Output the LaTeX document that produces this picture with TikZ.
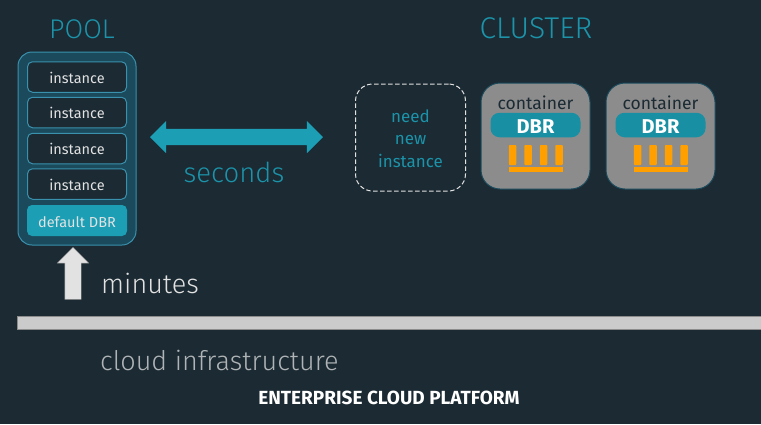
\documentclass[tikz,border=0pt]{standalone}
\usepackage{fontspec}
\setmainfont{Fira Sans}
\newfontfamily\lightfont{Fira Sans Light}
\usetikzlibrary{positioning,shapes.arrows}
\definecolor{bgdark}{HTML}{1B2A33}
\definecolor{pooldark}{HTML}{1A4A5C}
\definecolor{poolline}{HTML}{3A91AD}
\definecolor{tealfill}{HTML}{1C9FB5}
\definecolor{tealtext}{HTML}{1C93A9}
\definecolor{boxgray}{HTML}{8C8C8C}
\definecolor{barorange}{HTML}{FFA000}
\definecolor{softwhite}{HTML}{E2E2E2}
\newcommand{\lowered}[2]{\raisebox{-#1pt}[0pt][0pt]{#2}}
\tikzset{
  txt/.style = {font = \lightfont\fontsize{#1}{#1}\selectfont, inner sep = 0pt},
  smalltxt/.style = {font = \fontsize{#1}{#1}\selectfont, inner sep = 0pt},
  instancebox/.style = {draw = poolline, fill = bgdark, line width = 1pt, rounded corners = 5pt, minimum width = 99pt, minimum height = 30.5pt, inner sep = 0pt, text = softwhite, font = \fontsize{14.5}{14.5}\selectfont},
  containerbox/.style = {draw = pooldark, fill = boxgray, line width = 1pt, rounded corners = 19pt, minimum width = 109pt, minimum height = 106pt, inner sep = 0pt},
  dbrpill/.style = {fill = tealfill!90!black, rounded corners = 9pt, minimum width = 90pt, minimum height = 24.5pt, inner sep = 0pt, text = white, font = \bfseries\fontsize{20}{20}\selectfont},
  orangebar/.style = {fill = barorange, rounded corners = 0.8pt, minimum width = 7.5pt, minimum height = 20pt, inner sep = 0pt},
  orangebase/.style = {fill = barorange, minimum width = 54pt, minimum height = 4.5pt, inner sep = 0pt}
}
\begin{document}
\begin{tikzpicture}[x = 1pt, y = -1pt]
\useasboundingbox (0,0) rectangle (761,424);
\fill[bgdark] (0,0) rectangle (761,424);
% pool side
\node[txt = 27, text = tealtext] (pooltitle) at (82,29) {POOL};
\node[draw = poolline, fill = pooldark, line width = 1pt, rounded corners = 14pt, minimum width = 118pt, minimum height = 193pt, inner sep = 0pt] (pool) at (77,148.5) {};
\node[instancebox] (inst1) at (77,77) {\lowered{6}{instance}};
\node[instancebox] (inst2) at (77,112.5) {\lowered{6}{instance}};
\node[instancebox] (inst3) at (77,148.5) {\lowered{6}{instance}};
\node[instancebox] (inst4) at (77,184) {\lowered{6}{instance}};
\node[fill = tealfill, rounded corners = 5pt, minimum width = 100pt, minimum height = 31pt, inner sep = 0pt, text = softwhite, font = \fontsize{14.5}{14.5}\selectfont] (defdbr) at (77,220.5) {\lowered{6.5}{default DBR}};
% arrows
\node[double arrow, fill = tealfill, double arrow head extend = 8pt, minimum height = 173pt, inner sep = 8pt] (swap) at (236.5,137) {};
\node[txt = 27.5, text = tealtext] (seconds) at (234,172) {seconds};
\node[single arrow, shape border rotate = 90, draw = boxgray, fill = softwhite, single arrow head extend = 7.5pt, minimum height = 52pt, inner sep = 8pt] (upward) at (73,277.5) {};
\node[txt = 27, text = softwhite, anchor = west] (minutes) at (101,283) {minutes};
% cluster side
\node[txt = 30, text = tealtext] (clustertitle) at (536,28) {CLUSTER};
\node[draw = softwhite, dash pattern = on 4.5pt off 2.5pt, line width = 1pt, rounded corners = 17pt, minimum width = 110pt, minimum height = 107pt, inner sep = 0pt] (newbox) at (410.5,137.5) {};
\node[smalltxt = 17, text = tealtext, align = center] (needtext) at (410.5,138.5) {need\\[5pt]new\\[5.5pt]instance};
\foreach \cname/\cx in {conta/535.5, contb/660.5} {
  \node[containerbox] (\cname) at (\cx,136) {};
  \node[smalltxt = 17.5, text = bgdark] (\cname text) at (\cx,103) {container};
  \node[dbrpill] (\cname dbr) at (\cx,125) {\lowered{8}{DBR}};
  \foreach \off in {-23,-7.5,8,23.5}
    \node[orangebar] at (\cx+\off,155) {};
  \node[orangebase] (\cname base) at (\cx,169.5) {};
}
% bottom
\node[draw = boxgray, fill = softwhite!90!black, minimum width = 745pt, minimum height = 13pt, inner sep = 0pt, anchor = west] (infra) at (17,322.5) {};
\node[txt = 27, text = softwhite!75!bgdark, anchor = west] (infratext) at (100,360) {cloud infrastructure};
\node[font = \bfseries\fontsize{19}{19}\selectfont, text = white, inner sep = 0pt] (platform) at (389,398) {ENTERPRISE CLOUD PLATFORM};
\end{tikzpicture}
\end{document}
